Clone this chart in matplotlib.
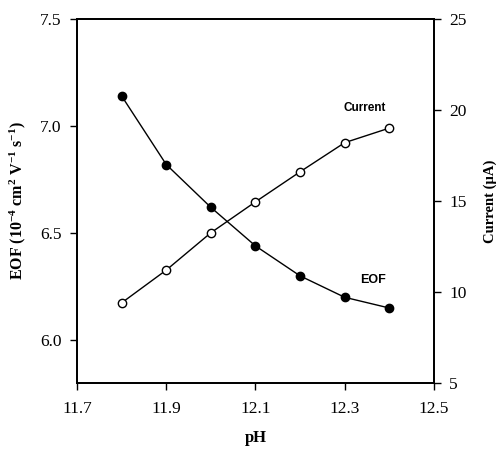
import matplotlib
matplotlib.use("Agg")
import matplotlib.pyplot as plt

# Data
ph = [11.8, 11.9, 12.0, 12.1, 12.2, 12.3, 12.4]
eof = [7.14, 6.82, 6.62, 6.44, 6.30, 6.20, 6.15]
current = [9.4, 11.2, 13.25, 14.95, 16.6, 18.2, 19.0]

x_ticks = [11.7, 11.9, 12.1, 12.3, 12.5]
eof_ticks = [6.0, 6.5, 7.0, 7.5]
current_ticks = [5, 10, 15, 20, 25]

serif = ["Liberation Serif", "DejaVu Serif"]
sans = ["Liberation Sans", "DejaVu Sans"]

plt.rcParams["mathtext.fontset"] = "custom"
plt.rcParams["mathtext.rm"] = "Liberation Serif:bold"
plt.rcParams["mathtext.bf"] = "Liberation Serif:bold"
plt.rcParams["mathtext.it"] = "Liberation Serif:bold"
plt.rcParams["mathtext.default"] = "rm"

fig = plt.figure(figsize=(4.97, 4.5), dpi=100)
ax = fig.add_axes([0.155, 0.149, 0.718, 0.809])
ax2 = ax.twinx()

# EOF (filled circles, left axis)
ax.plot(ph, eof, color="black", linewidth=1.0, marker="o", markersize=6,
        markerfacecolor="black", markeredgecolor="black", zorder=3)
# Current (open circles, right axis)
ax2.plot(ph, current, color="black", linewidth=1.0, marker="o", markersize=6,
         markerfacecolor="white", markeredgecolor="black", markeredgewidth=1.0, zorder=3)

ax.set_xlim(11.7, 12.5)
ax.set_ylim(5.8, 7.5)
ax2.set_ylim(5, 25)

ax.set_xticks(x_ticks)
ax.set_xticklabels([f"{v:.1f}" for v in x_ticks], fontfamily=serif, fontsize=12.5)
ax.set_yticks(eof_ticks)
ax.set_yticklabels([f"{v:.1f}" for v in eof_ticks], fontfamily=serif, fontsize=12.5)
ax2.set_yticks(current_ticks)
ax2.set_yticklabels([str(v) for v in current_ticks], fontfamily=serif, fontsize=12.5)

for a in (ax, ax2):
    a.tick_params(direction="out", length=5, width=1.0, pad=6)
    for s in a.spines.values():
        s.set_linewidth(1.3)
ax.tick_params(axis="x", pad=8)

ax.set_xlabel("pH", fontfamily=serif, fontsize=12, fontweight="bold", labelpad=9)
ax.set_ylabel("EOF (10$^{-4}$ cm$^{2}$ V$^{-1}$ s$^{-1}$)", fontfamily=serif,
              fontsize=11.5, fontweight="bold", labelpad=9)
ax2.set_ylabel("Current (\u00b5A)", fontfamily=serif, fontsize=10.5,
               fontweight="bold", labelpad=12)

ax2.text(12.345, 20.1, "Current", fontfamily=sans, fontsize=8.5, fontweight="bold",
         ha="center", va="center")
ax2.text(12.363, 10.66, "EOF", fontfamily=sans, fontsize=9, fontweight="bold",
         ha="center", va="center")

fig.savefig("out.png", dpi=100, facecolor="white")
